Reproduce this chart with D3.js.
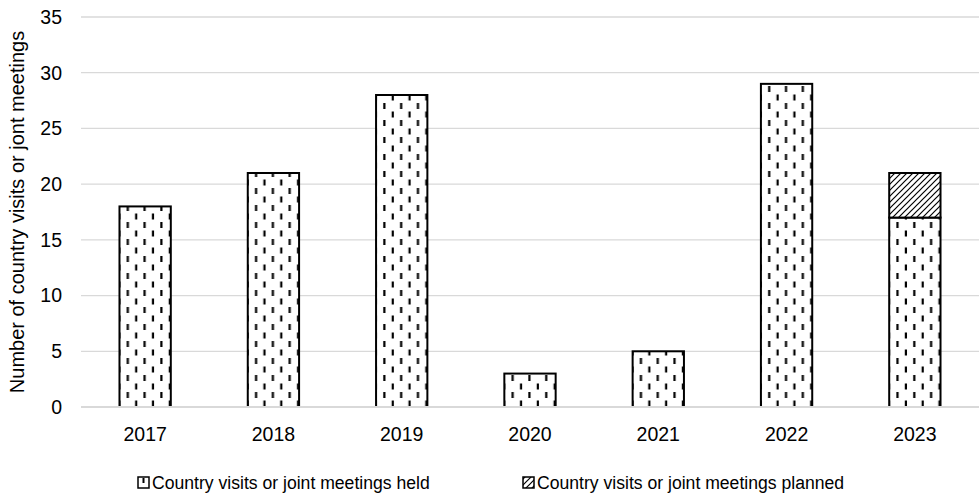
<!DOCTYPE html>
<html>
<head>
<meta charset="utf-8">
<script src="https://cdn.jsdelivr.net/npm/d3@7"></script>
<style>
  html, body { margin: 0; padding: 0; background: #fff; }
  svg { display: block; font-family: "Liberation Sans", Arial, sans-serif; }
</style>
</head>
<body>
<svg id="chart" width="979" height="497"></svg>
<script>
// Yearly counts of country visits / joint meetings
const years = ["2017", "2018", "2019", "2020", "2021", "2022", "2023"];
const held = [18, 21, 28, 3, 5, 29, 17];
const planned = [0, 0, 0, 0, 0, 0, 4];
const yTicks = [0, 5, 10, 15, 20, 25, 30, 35];
const seriesNames = ["Country visits or joint meetings held", "Country visits or joint meetings planned"];
const yTitle = "Number of country visits or jont meetings";

const W = 979, H = 497;
const margin = { top: 17, right: 0, bottom: 90, left: 81 };
const svg = d3.select("#chart");
const defs = svg.append("defs");

const x = d3.scaleBand().domain(years).range([margin.left, W - margin.right]).paddingInner(0.6).paddingOuter(0.3);
const y = d3.scaleLinear().domain([0, 35]).range([H - margin.bottom, margin.top]);

// Dashed-vertical fill pattern, aligned to a given x origin
const PW = 16.8, PH = 17;
function dashPattern(id, x0) {
  const p = defs.append("pattern").attr("id", id)
    .attr("patternUnits", "userSpaceOnUse")
    .attr("width", PW).attr("height", PH)
    .attr("x", x0).attr("y", 0);
  p.append("rect").attr("width", PW).attr("height", PH).attr("fill", "#fff");
  p.append("rect").attr("x", 7.2).attr("y", 1).attr("width", 2.2).attr("height", 6).attr("fill", "#000");
  p.append("rect").attr("x", 15.6).attr("y", 9.5).attr("width", 2.2).attr("height", 6).attr("fill", "#000");
  p.append("rect").attr("x", 15.6 - PW).attr("y", 9.5).attr("width", 2.2).attr("height", 6).attr("fill", "#000");
}
// Wide upward diagonal hatch
const hatch = defs.append("pattern").attr("id", "hatch")
  .attr("patternUnits", "userSpaceOnUse")
  .attr("width", 6).attr("height", 6);
hatch.append("rect").attr("width", 6).attr("height", 6).attr("fill", "#fff");
hatch.append("path").attr("d", "M-1,1 L1,-1 M0,6 L6,0 M5,7 L7,5")
  .attr("stroke", "#000").attr("stroke-width", 1.2);

// Gridlines
svg.append("g").selectAll("line").data(yTicks).join("line")
  .attr("x1", margin.left).attr("x2", W - margin.right)
  .attr("y1", d => y(d)).attr("y2", d => y(d))
  .attr("stroke", "#d9d9d9").attr("stroke-width", d => d === 0 ? 2 : 1.3);

// Y tick labels
svg.append("g").selectAll("text").data(yTicks).join("text")
  .attr("x", 62).attr("y", d => y(d)).attr("dy", "0.35em")
  .attr("text-anchor", "end").attr("font-size", 19.5).attr("fill", "#000")
  .text(d => d);

// Bars: held, with planned stacked on top
const bars = svg.append("g");
years.forEach((yr, i) => {
  const bx = x(yr), bw = x.bandwidth();
  dashPattern("dash" + i, bx);
  bars.append("rect")
    .attr("x", bx).attr("width", bw)
    .attr("y", y(held[i])).attr("height", y(0) - y(held[i]))
    .attr("fill", `url(#dash${i})`).attr("stroke", "#000").attr("stroke-width", 2);
  if (planned[i] > 0) {
    bars.append("rect")
      .attr("x", bx).attr("width", bw)
      .attr("y", y(held[i] + planned[i])).attr("height", y(held[i]) - y(held[i] + planned[i]))
      .attr("fill", "url(#hatch)").attr("stroke", "#000").attr("stroke-width", 2);
  }
});

// Baseline redrawn over bar edges
svg.append("line")
  .attr("x1", margin.left).attr("x2", W - margin.right)
  .attr("y1", y(0)).attr("y2", y(0))
  .attr("stroke", "#d9d9d9").attr("stroke-width", 2);

// X labels
svg.append("g").selectAll("text").data(years).join("text")
  .attr("x", d => x(d) + x.bandwidth() / 2).attr("y", y(0) + 27)
  .attr("dy", "0.35em").attr("text-anchor", "middle")
  .attr("font-size", 19.5).attr("fill", "#000").text(d => d);

// Y axis title
svg.append("text")
  .attr("transform", `translate(24,${(y(0) + y(35)) / 2}) rotate(-90)`)
  .attr("text-anchor", "middle").attr("font-size", 20).attr("fill", "#000")
  .text(yTitle);

// Legend
const legend = svg.append("g");
const legendItems = [
  { name: seriesNames[0], x: 138 },
  { name: seriesNames[1], x: 523 }
];
const ly = 483;
legendItems.forEach((d, i) => {
  const g = legend.append("g");
  g.append("rect").attr("x", d.x).attr("y", ly - 6).attr("width", 11).attr("height", 11)
    .attr("fill", i === 0 ? "#fff" : "url(#hatch)").attr("stroke", "#000").attr("stroke-width", 1.5);
  if (i === 0) {
    g.append("rect").attr("x", d.x + 4.5).attr("y", ly - 5).attr("width", 2).attr("height", 5).attr("fill", "#000");
  }
  g.append("text").attr("x", d.x + 14).attr("y", ly).attr("dy", "0.35em")
    .attr("font-size", 17.6).attr("fill", "#000").text(d.name);
});
</script>
</body>
</html>
